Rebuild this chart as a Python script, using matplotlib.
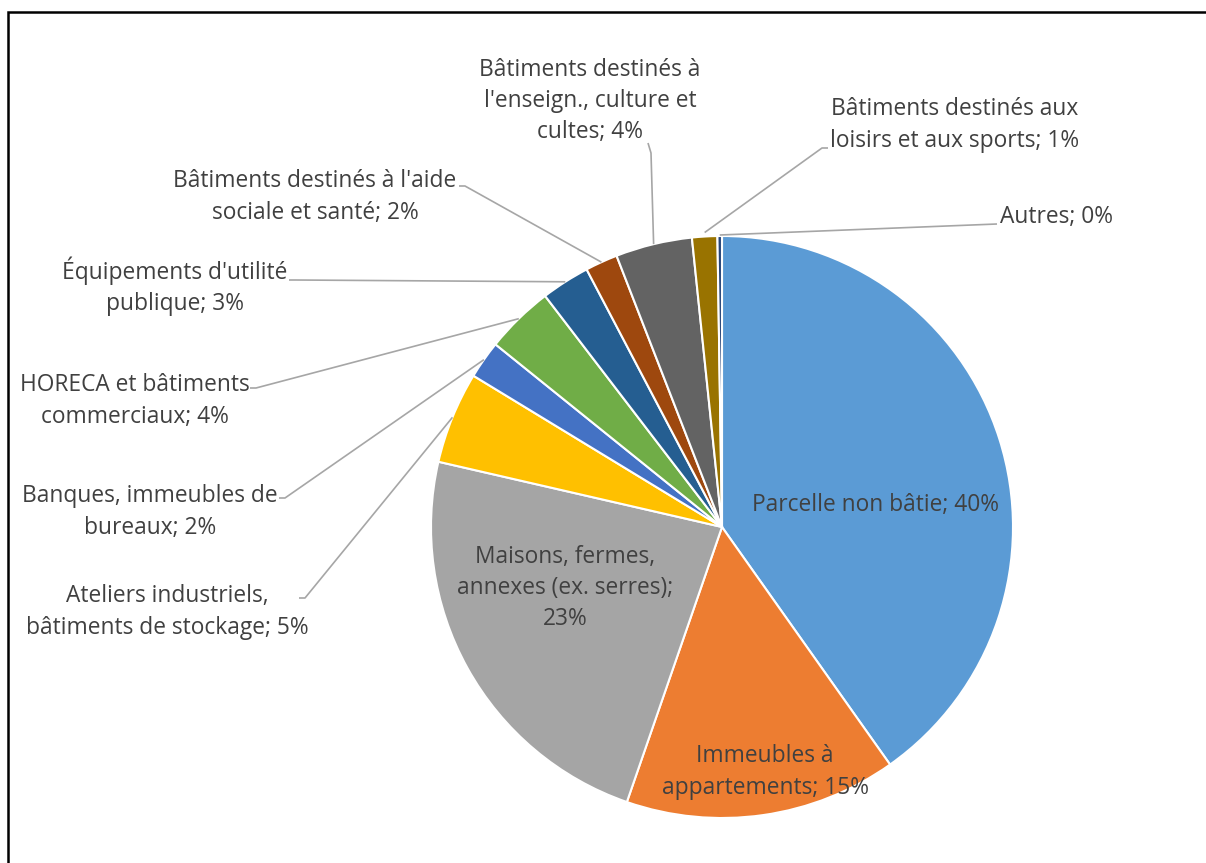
import matplotlib.pyplot as plt
import numpy as np
from matplotlib.patches import Rectangle

# data, clockwise from the top
categories = [
    "Parcelle non bâtie",
    "Immeubles à\nappartements",
    "Maisons, fermes,\nannexes (ex. serres);\n",
    "Ateliers industriels,\nbâtiments de stockage",
    "Banques, immeubles de\nbureaux",
    "HORECA et bâtiments\ncommerciaux",
    "Équipements d'utilité\npublique",
    "Bâtiments destinés à l'aide\nsociale et santé",
    "Bâtiments destinés à\nl'enseign., culture et\ncultes",
    "Bâtiments destinés aux\nloisirs et aux sports",
    "Autres",
]
shares = [40.2, 15.1, 23.3, 5.1, 2.1, 3.8, 2.7, 1.8, 4.25, 1.4, 0.25]
colors = ["#5B9BD5", "#ED7D31", "#A5A5A5", "#FFC000", "#4472C4", "#70AD47",
          "#255E91", "#9E480E", "#636363", "#997300", "#264478"]

W, H = 1206, 863
fig = plt.figure(figsize=(W / 100, H / 100), dpi=100)
ax = fig.add_axes([0, 0, 1, 1])

cx, cy, R = 722, H - 527, 291
wedges, _ = ax.pie(shares, colors=colors, startangle=90, counterclock=False,
                   center=(cx, cy), radius=R,
                   wedgeprops=dict(edgecolor="white", linewidth=1.5))
ax.set_xlim(0, W)
ax.set_ylim(0, H)
ax.set_aspect("auto")
ax.axis("off")

txt_color = "#404040"
line_color = "#A6A6A6"
font = dict(family="Open Sans", fontsize=16.4, color=txt_color, linespacing=1.4)


def label(i):
    name = categories[i]
    sep = "" if name.endswith("\n") else "; "
    return f"{name}{sep}{round(shares[i]):.0f}%"


# inside labels (pixel positions, y from top)
inside = {0: (876, 505), 1: (765, 772), 2: (565, 588)}
for i, (x, y) in inside.items():
    ax.text(x, H - y, label(i), ha="center", va="center", **font)

# outside labels: text centre, leader anchor near the text
outside = {
    3: ((167, 612), (305, 598)),
    4: ((150, 512), (285, 498)),
    5: ((135, 401), (256, 388)),
    6: ((175, 286), (295, 280)),
    7: ((315, 197), (465, 186)),
    8: ((590, 101), (648, 143)),
    9: ((955, 125), (822, 148)),
    10: ((1057, 217), (997, 224)),
}
for i, ((tx, ty), (lx, ly)) in outside.items():
    ax.text(tx, H - ty, label(i), ha="center", va="center", **font)
    w = wedges[i]
    mid = np.deg2rad((w.theta1 + w.theta2) / 2)
    px, py = cx + R * np.cos(mid), cy + R * np.sin(mid)
    if i == 8:
        pts = [(lx, H - ly), (lx + 3, H - ly - 10), (px, py)]
    elif i == 9:
        pts = [(lx + 6, H - ly), (lx, H - ly), (px, py + 4)]
    elif i == 10:
        pts = [(lx, H - ly), (px, py + 1)]
    else:
        pts = [(lx - 6, H - ly), (lx, H - ly), (px, py)]
    xs, ys = zip(*pts)
    ax.plot(xs, ys, color=line_color, lw=1.2, solid_capstyle="butt")

# frame (top and left edges visible, the rest runs off the image)
ax.add_patch(Rectangle((8, -20), W + 20, H - 12 + 20, fill=False,
                       edgecolor="black", lw=1.8, clip_on=False))

fig.savefig("out.png", dpi=100)
